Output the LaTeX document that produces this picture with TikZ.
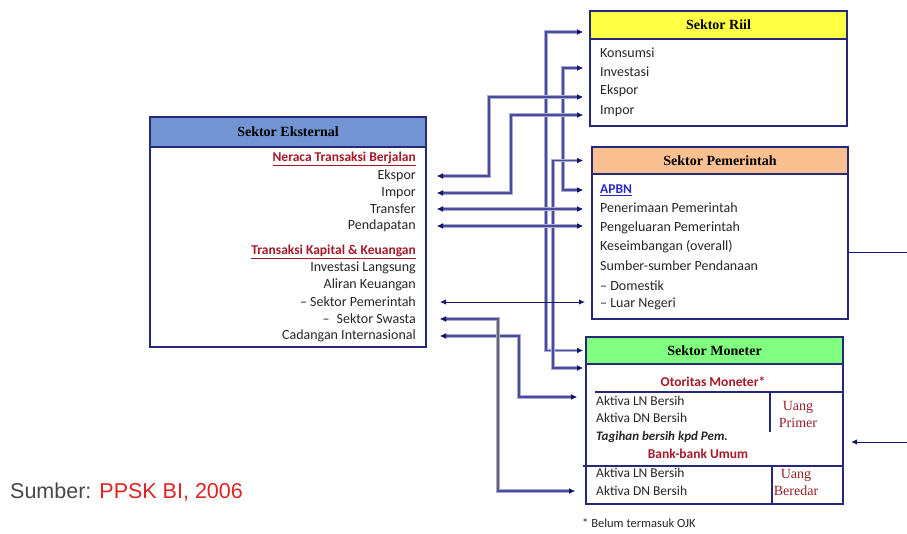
\documentclass[tikz,border=0pt]{standalone}
\usepackage{fontspec}
\setmainfont{Carlito}
\newfontfamily\headfont{Liberation Serif}
\newfontfamily\srcfont{Liberation Sans}
\usetikzlibrary{positioning,arrows.meta}
\definecolor{boxline}{RGB}{40,40,120}
\definecolor{linkhalo}{RGB}{170,170,212}
\definecolor{linkcore}{RGB}{75,75,158}
\definecolor{tipcol}{RGB}{20,20,110}
\definecolor{eksfill}{RGB}{115,148,210}
\definecolor{riilfill}{RGB}{255,255,70}
\definecolor{pemfill}{RGB}{250,192,145}
\definecolor{monfill}{RGB}{128,255,128}
\definecolor{judulred}{RGB}{165,25,40}
\definecolor{apbnblue}{RGB}{40,40,200}
\definecolor{uangred}{RGB}{150,30,40}
\definecolor{srcgray}{RGB}{70,70,70}
\definecolor{srcred}{RGB}{222,35,35}
\tikzset{
  sektor/.style   = {shape=rectangle, draw=boxline, line width=1.8pt,
          anchor=north west, inner sep=0pt, outer sep=0pt},
  head/.style     = {sektor, font=\headfont\bfseries\fontsize{14}{16}\selectfont},
  entri/.style    = {inner sep=0pt, text=black!85, font=\fontsize{14}{16}\selectfont},
  entrir/.style   = {entri, anchor=east},
  entril/.style   = {entri, anchor=west},
  entrim/.style   = {entri, anchor=west, font=\fontsize{13.5}{16}\selectfont},
  judul/.style    = {entri, text=judulred, font=\bfseries\fontsize{13.5}{16}\selectfont},
  uang/.style     = {inner sep=0pt, align=center, text=uangred,
          font=\headfont\fontsize{14}{17}\selectfont},
  link/.style     = {draw=linkcore, line width=1.1pt,
          preaction={draw=linkhalo, line width=3.4pt}},
  thinlink/.style = {draw=tipcol, line width=1pt},
  rule/.style     = {draw=boxline, line width=1.8pt},
  >={Latex[length=6pt,width=5.5pt,color=tipcol]}
}

\begin{document}
\begin{tikzpicture}[x=1pt,y=-1pt]
  \useasboundingbox (0,0) rectangle (907,533);

  % Sektor Eksternal
  \node [head, fill=eksfill, minimum width=276pt, minimum height=30pt] (eks-head) at (150,117) {Sektor Eksternal};
  \node [sektor, minimum width=276pt, minimum height=200pt, below=0pt of eks-head] (eks) {};
  \node [judul, anchor=east] (e-neraca) at (416,159) {\underline{Neraca Transaksi Berjalan}};
  \node [entrir] (e-ekspor) at (416,176) {Ekspor};
  \node [entrir] (e-impor) at (416,193) {Impor};
  \node [entrir] (e-transfer) at (416,209) {Transfer};
  \node [entrir] (e-pendapatan) at (416,226) {Pendapatan};
  \node [judul, anchor=east] (e-kapital) at (416,252) {\underline{Transaksi Kapital \& Keuangan}};
  \node [entrir] (e-langsung) at (416,268) {Investasi Langsung};
  \node [entrir] (e-aliran) at (416,285) {Aliran Keuangan};
  \node [entrir] (e-sekpem) at (416,302) {-- Sektor Pemerintah};
  \node [entrir] (e-swasta) at (416,319) {--\enspace Sektor Swasta};
  \node [entrir] (e-cadangan) at (416,336) {Cadangan Internasional};

  % Sektor Riil
  \node [head, fill=riilfill, minimum width=257pt, minimum height=28pt] (riil-head) at (590,11) {Sektor Riil};
  \node [sektor, minimum width=257pt, minimum height=87pt, below=0pt of riil-head] (riil) {};
  \node [entril] (r-konsumsi) at (600,53) {Konsumsi};
  \node [entril] (r-investasi) at (600,72) {Investasi};
  \node [entril] (r-ekspor) at (600,91) {Ekspor};
  \node [entril] (r-impor) at (600,111) {Impor};

  % Sektor Pemerintah
  \node [head, fill=pemfill, minimum width=256pt, minimum height=27pt] (pem-head) at (592,147) {Sektor Pemerintah};
  \node [sektor, minimum width=256pt, minimum height=145pt, below=0pt of pem-head] (pem) {};
  \node [entril, text=apbnblue, font=\bfseries\fontsize{13.5}{16}\selectfont] (p-apbn) at (600,190) {\underline{APBN}};
  \node [entril] (p-terima) at (600,208) {Penerimaan Pemerintah};
  \node [entril] (p-keluar) at (600,228) {Pengeluaran Pemerintah};
  \node [entril] (p-imbang) at (600,247) {Keseimbangan (overall)};
  \node [entril] (p-sumber) at (600,266) {Sumber-sumber Pendanaan};
  \node [entril] (p-domestik) at (600,286) {-- Domestik};
  \node [entril] (p-luar) at (600,304) {-- Luar Negeri};

  % Sektor Moneter
  \node [head, fill=monfill, minimum width=257pt, minimum height=27pt] (mon-head) at (586,337) {Sektor Moneter};
  \node [sektor, minimum width=257pt, minimum height=140pt, below=0pt of mon-head] (mon) {};
  \node [judul] (o-judul) at (713,382) {Otoritas Moneter*};
  \draw [rule] (595,392) -- (843,392);
  \draw [rule] (770,392) -- (770,432);
  \node [entrim] (o-ln) at (596,401) {Aktiva LN Bersih};
  \node [entrim] (o-dn) at (596,418) {Aktiva DN Bersih};
  \node [entrim, font=\bfseries\itshape\fontsize{13}{16}\selectfont] (o-tagihan) at (596,437) {Tagihan bersih kpd Pem.};
  \node [uang] (u-primer) at (798,414) {Uang\\Primer};
  \node [judul] (b-judul) at (698,454) {Bank-bank Umum};
  \draw [rule] (583,466) -- (843,466);
  \draw [rule] (772,466) -- (772,504);
  \node [entrim] (b-ln) at (596,473) {Aktiva LN Bersih};
  \node [entrim] (b-dn) at (596,491) {Aktiva DN Bersih};
  \node [uang] (u-beredar) at (796,482) {Uang\\Beredar};
  \node [entrim, font=\fontsize{12.5}{14}\selectfont] (catatan) at (582,523) {* Belum termasuk OJK};

  % sumber
  \node [anchor=west, inner sep=0pt, font=\srcfont\fontsize{21.5}{24}\selectfont] (sumber) at (10,492)
    {\textcolor{srcgray}{Sumber:} \textcolor{srcred}{PPSK BI, 2006}};

  % hubungan antar sektor
  \draw [link, <->] ([shift={(-7,-7)}]riil-head.south west) -| ([xshift=-40pt]mon-head.west) -- ([xshift=-3pt]mon-head.west);
  \draw [link, <->] ([shift={(-17,-4)}]r-investasi.west) -| ([xshift=-37pt]p-apbn.west) -- ([xshift=-17pt]p-apbn.west);
  \draw [link, <->] ([xshift=-9pt]pem-head.west) -| ([shift={(-33,4)}]mon.north west) -- ([shift={(-3,4)}]mon.north west);
  \draw [link, <->] ([xshift=21pt]e-ekspor.east) -| ([shift={(-111,6)}]r-ekspor.west) -- ([shift={(-17,6)}]r-ekspor.west);
  \draw [link, <->] ([xshift=21pt]e-impor.east) -| ([shift={(-89,4)}]r-impor.west) -- ([shift={(-17,4)}]r-impor.west);
  \draw [link, <->] ([xshift=21pt]e-transfer.east) -- ([xshift=-17pt]p-terima.west |- e-transfer.east);
  \draw [link, <->] ([xshift=21pt]e-pendapatan.east) -- ([xshift=-17pt]p-keluar.west |- e-pendapatan.east);
  \draw [thinlink, <->] ([xshift=24pt]e-sekpem.east) -- ([xshift=-15pt]p-luar.west |- e-sekpem.east);
  \draw [link, <->] ([xshift=24pt]e-cadangan.east) -| ([shift={(-77,-4)}]o-ln.west) -- ([shift={(-19,-4)}]o-ln.west);
  \draw [link, <->] ([xshift=24pt]e-swasta.east) -| ([xshift=-98pt]b-dn.west) -- ([xshift=-21pt]b-dn.west);
  \draw [draw=black!60, line width=2pt] ([xshift=-98pt]b-dn.west |- e-swasta.east) -- ([xshift=-98pt]b-dn.west);
  \draw [thinlink, ->] ([shift={(0,6)}]pem.east) -- ++(80,0) |- ([shift={(8,8)}]mon.east);
\end{tikzpicture}
\end{document}
